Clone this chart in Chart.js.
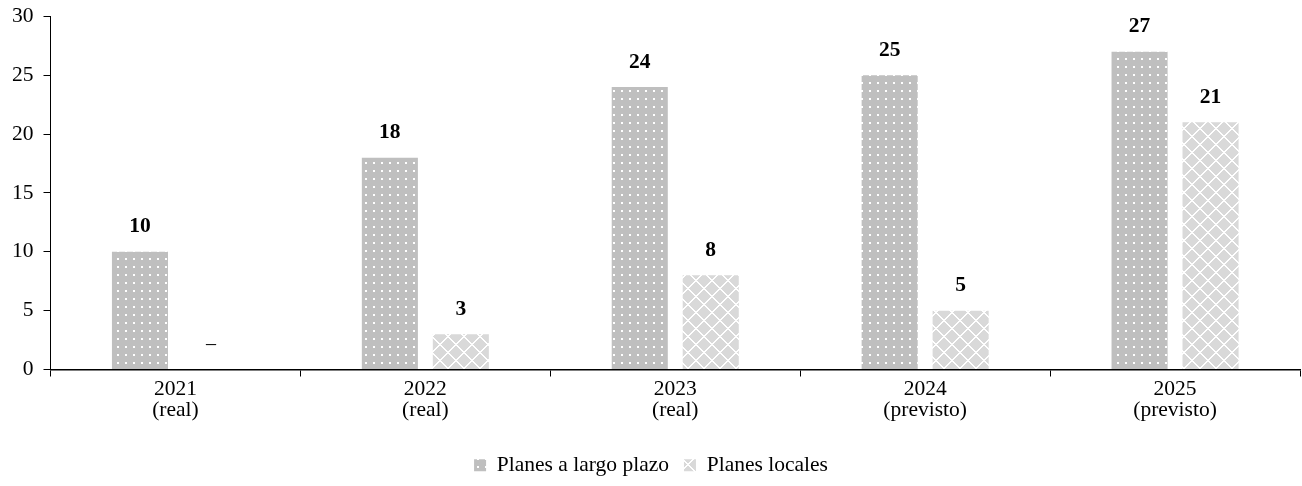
<!DOCTYPE html>
<html>
<head>
<meta charset="utf-8">
<script src="https://cdn.jsdelivr.net/npm/chart.js@4/dist/chart.umd.min.js"></script>
<style>
html,body{margin:0;padding:0;background:#fff;}
#wrap{width:1302px;height:486px;position:relative;}
</style>
</head>
<body>
<div id="wrap"><canvas id="c" width="1302" height="486"></canvas></div>
<script>
const categories = [["2021","(real)"],["2022","(real)"],["2023","(real)"],["2024","(previsto)"],["2025","(previsto)"]];
const seriesNames = ["Planes a largo plazo","Planes locales"];
const largoPlazo = [10, 18, 24, 25, 27];
const locales = [null, 3, 8, 5, 21];
const yTicks = [0,5,10,15,20,25,30];

function dotPattern(){
  const c=document.createElement('canvas');c.width=8;c.height=8;
  const x=c.getContext('2d');
  x.fillStyle='#bfbfbf';x.fillRect(0,0,8,8);
  x.fillStyle='#ffffff';x.fillRect(5,2,2,2);
  return x.createPattern(c,'repeat');
}
function crossPattern(){
  const c=document.createElement('canvas');c.width=16;c.height=16;
  const x=c.getContext('2d');
  x.fillStyle='#d9d9d9';x.fillRect(0,0,16,16);
  x.fillStyle='#ffffff';
  for(let i=0;i<16;i++){
    x.fillRect(i,(i)%16,1,1);
    x.fillRect(i,(i+1)%16,1,1);
    x.fillRect(i,(15-i+16)%16,1,1);
    x.fillRect(i,(16-i)%16,1,1);
  }
  return x.createPattern(c,'repeat');
}

const FONT = "'Liberation Serif','Times New Roman',serif";
const FS = 21.5;

const labelPlugin = {
  id:'valLabels',
  afterDatasetsDraw(chart){
    const ctx=chart.ctx;
    ctx.save();
    ctx.fillStyle='#000';
    ctx.textAlign='center';
    ctx.textBaseline='middle';
    const yScale=chart.scales.y;
    chart.data.datasets.forEach((ds,di)=>{
      const meta=chart.getDatasetMeta(di);
      meta.data.forEach((bar,i)=>{
        const v=ds.data[i];
        if(v===null||v===undefined){
          ctx.font="20px "+FONT;
          ctx.fillText('–',bar.x,yScale.getPixelForValue(0)-25);
        } else {
          ctx.font="bold "+FS+"px "+FONT;
          ctx.fillText(String(v),bar.x,bar.y-25);
        }
      });
    });
    ctx.restore();
  }
};

new Chart(document.getElementById('c'),{
  type:'bar',
  data:{
    labels:categories,
    datasets:[
      {label:seriesNames[0],data:largoPlazo,backgroundColor:dotPattern(),borderWidth:0,categoryPercentage:0.568,barPercentage:0.79},
      {label:seriesNames[1],data:locales,backgroundColor:crossPattern(),borderWidth:0,categoryPercentage:0.568,barPercentage:0.79}
    ]
  },
  options:{
    responsive:false,
    animation:false,
    layout:{padding:{left:2,right:2,top:2,bottom:0}},
    plugins:{
      legend:{
        position:'bottom',
        labels:{font:{family:FONT,size:FS},color:'#000',boxWidth:12,boxHeight:12,padding:15}
      },
      tooltip:{enabled:false}
    },
    scales:{
      x:{
        afterFit(s){ s.height += 16; },
        grid:{display:true,offset:true,drawOnChartArea:false,drawTicks:true,tickLength:7,color:'#000',lineWidth:1},
        border:{display:true,color:'#000',width:1.5},
        ticks:{font:{family:FONT,size:FS,lineHeight:1.0},color:'#000',padding:2,maxRotation:0}
      },
      y:{
        min:0,max:30,
        afterBuildTicks(ax){ax.ticks=yTicks.map(v=>({value:v}));},
        grid:{display:true,drawOnChartArea:false,drawTicks:true,tickLength:7,color:'#000'},
        border:{display:true,color:'#000',width:1},
        ticks:{font:{family:FONT,size:FS,lineHeight:0.6},color:'#000',padding:10}
      }
    }
  },
  plugins:[labelPlugin]
});
</script>
</body>
</html>
